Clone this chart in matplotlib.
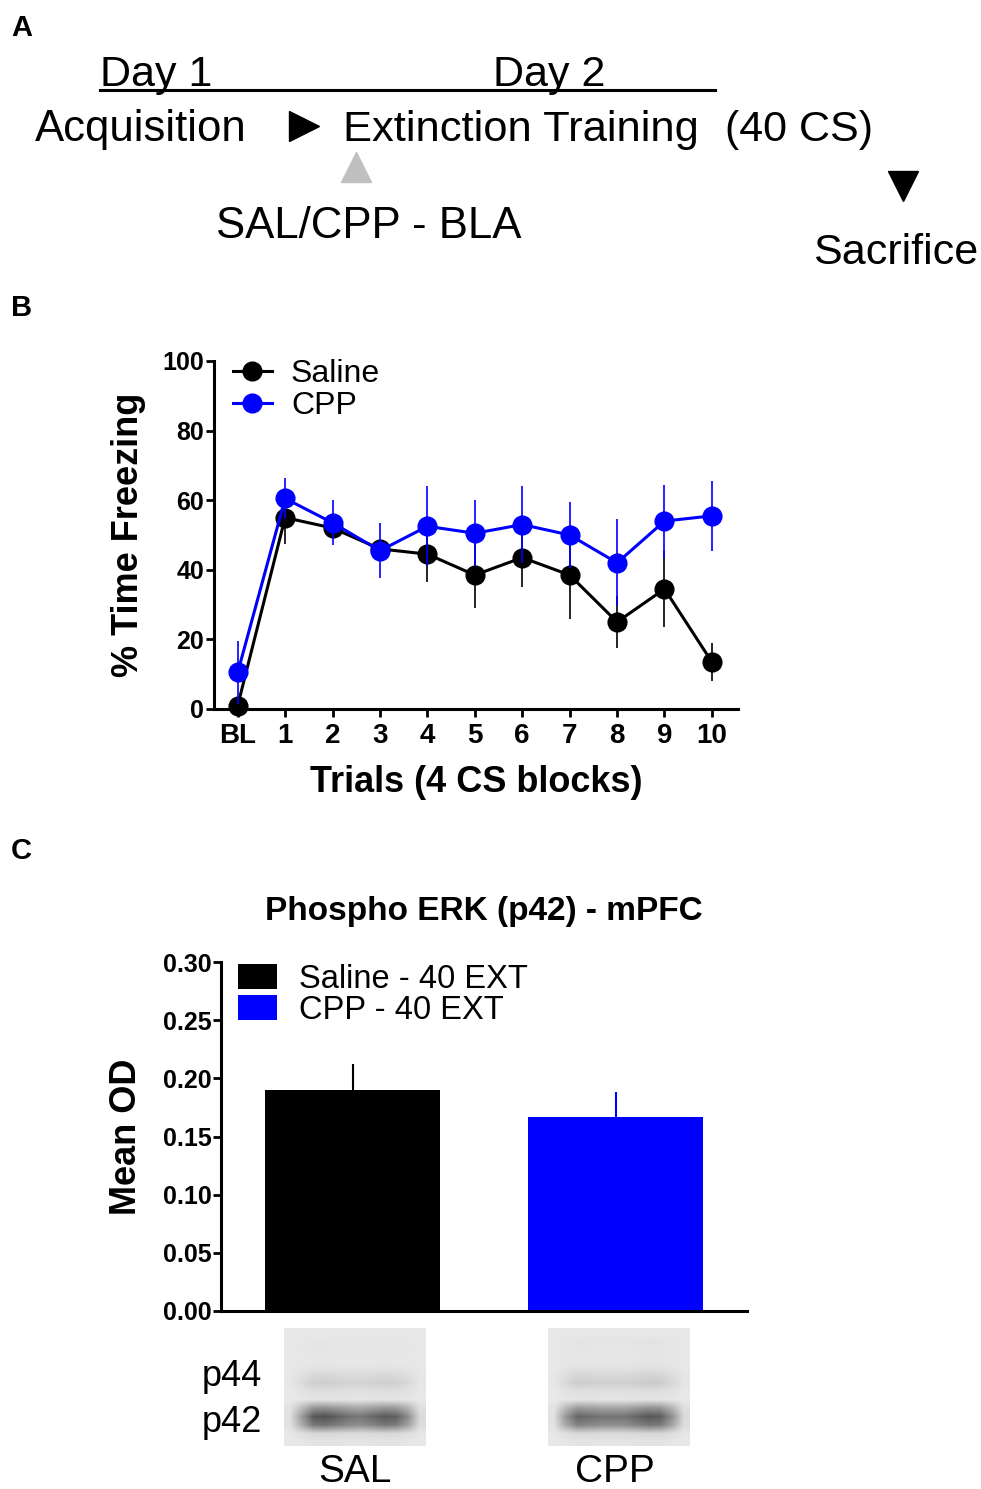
import numpy as np
import matplotlib
matplotlib.use("Agg")
import matplotlib.pyplot as plt
from matplotlib.lines import Line2D

plt.rcParams['font.family'] = ['Liberation Sans', 'DejaVu Sans']

# ---- data ----
trial_labels = ['BL', '1', '2', '3', '4', '5', '6', '7', '8', '9', '10']
saline_mean = [1, 55, 52, 46, 44.5, 38.5, 43.5, 38.5, 25, 34.5, 13.5]
saline_sem = [1, 7.5, 3, 2, 8, 9.5, 8.5, 12.5, 7.5, 11, 5.5]
cpp_mean = [10.5, 60.5, 53.5, 45.5, 52.5, 50.5, 53, 50, 42, 54, 55.5]
cpp_sem = [9, 6, 6.5, 8, 11.5, 9.5, 11, 9.5, 12.5, 10.5, 10]

od_groups = ['Saline - 40 EXT', 'CPP - 40 EXT']
od_mean = [0.190, 0.167]
od_sem = [0.022, 0.021]
od_colors = ['black', '#0000ff']

# blot band profiles (darkness), rows top->bottom and columns left->right
sal_blot_rows = [0.0, 0.02, 0.02, 0.01, 0.02, 0.10, 0.17, 0.07, 0.03, 0.55, 0.95, 0.75, 0.12, 0.03]
sal_blot_cols = [0.05, 0.5, 0.95, 1.0, 0.9, 0.8, 0.75, 0.85, 0.95, 0.9, 0.6, 0.1]
cpp_blot_rows = [0.0, 0.03, 0.02, 0.02, 0.03, 0.12, 0.19, 0.07, 0.03, 0.55, 0.92, 0.72, 0.12, 0.03]
cpp_blot_cols = [0.05, 0.55, 0.9, 0.85, 0.8, 0.8, 0.8, 0.9, 1.0, 0.95, 0.6, 0.1]

W, H = 981, 1489
fig = plt.figure(figsize=(W / 100, H / 100), dpi=100)


def px_axes(left, top, right, bottom):
    return fig.add_axes([left / W, 1 - bottom / H, (right - left) / W, (bottom - top) / H])


# overlay in pixel coordinates for schematic and labels
ov = fig.add_axes([0, 0, 1, 1])
ov.set_xlim(0, W)
ov.set_ylim(H, 0)
ov.axis('off')

# ---- panel A ----
ov.text(11, 28, 'A', fontsize=21, fontweight='bold', va='center', ha='left')
ov.text(100, 86, 'Day 1', fontsize=31, va='baseline')
ov.text(493, 86, 'Day 2', fontsize=31, va='baseline')
ov.plot([100, 715], [90, 90], color='black', lw=2.2)
ov.text(35, 141, 'Acquisition', fontsize=31.5, va='baseline')
ov.plot([304], [126], marker='>', color='black', markersize=22, ls='none')
ov.text(343, 141, 'Extinction Training', fontsize=31.3, va='baseline')
ov.text(725, 141, '(40 CS)', fontsize=31, va='baseline')
ov.plot([356], [167], marker='^', color='#c0c0c0', markersize=22, ls='none')
ov.text(216, 238, 'SAL/CPP - BLA', fontsize=31.5, va='baseline')
ov.plot([903], [186], marker='v', color='black', markersize=22, ls='none')
ov.text(813, 264, 'Sacrifice', fontsize=31, va='baseline')

# ---- panel B ----
ov.text(11, 308, 'B', fontsize=21, fontweight='bold', va='center', ha='left')
axb = px_axes(214, 361, 738, 709)
x = np.arange(len(trial_labels))
axb.errorbar(x, saline_mean, yerr=saline_sem, color='black', lw=2.2, elinewidth=1.2,
             marker='o', markersize=13.5, capsize=0, clip_on=False, zorder=3)
axb.errorbar(x, cpp_mean, yerr=cpp_sem, color='#0000ff', lw=2.2, elinewidth=1.2,
             marker='o', markersize=13.5, capsize=0, clip_on=False, zorder=4)
axb.set_xlim(-0.5, 10.55)
axb.set_ylim(0, 100)
axb.set_yticks(range(0, 101, 20))
axb.set_xticks(x)
axb.set_xticklabels(trial_labels)
for s in ['top', 'right']:
    axb.spines[s].set_visible(False)
for s in ['left', 'bottom']:
    axb.spines[s].set_linewidth(2.2)
axb.tick_params(axis='both', width=2, length=6, direction='out')
axb.tick_params(axis='y', labelsize=18, pad=1)
axb.tick_params(axis='x', labelsize=20, pad=4)
for lab in axb.get_xticklabels() + axb.get_yticklabels():
    lab.set_fontweight('bold')
axb.set_ylabel('% Time Freezing', fontsize=26, fontweight='bold', va='center', ha='center')
axb.yaxis.set_label_coords(-0.164, 0.5)
axb.set_xlabel('Trials (4 CS blocks)', fontsize=26, fontweight='bold', va='center', ha='center')
axb.xaxis.set_label_coords(0.5, -0.21)
handles_b = [Line2D([], [], color='black', lw=2.2, marker='o', markersize=13.5),
             Line2D([], [], color='#0000ff', lw=2.2, marker='o', markersize=13.5)]
axb.legend(handles_b, ['Saline', 'CPP'], loc='upper left', bbox_to_anchor=(0.036, 1.005),
           frameon=False, fontsize=23, handlelength=1.22, handletextpad=0.6,
           labelspacing=0.05, borderpad=0, borderaxespad=0)

# ---- panel C ----
ov.text(11, 851, 'C', fontsize=21, fontweight='bold', va='center', ha='left')
axc = px_axes(221, 962, 747, 1311)
xc = np.arange(len(od_groups))
axc.bar(xc, od_mean, width=0.665, color=od_colors, label=od_groups, zorder=2)
for i in range(len(od_groups)):
    axc.errorbar(xc[i], od_mean[i], yerr=[[0], [od_sem[i]]], color=od_colors[i],
                 elinewidth=1.5, capsize=0, ls='none', zorder=1)
axc.set_xlim(-0.5, 1.5)
axc.set_ylim(0, 0.30)
ticks_c = np.arange(0, 0.301, 0.05)
axc.set_yticks(ticks_c)
axc.set_yticklabels([f'{v:.2f}' for v in ticks_c])
axc.set_xticks([])
for s in ['top', 'right']:
    axc.spines[s].set_visible(False)
for s in ['left', 'bottom']:
    axc.spines[s].set_linewidth(2.2)
axc.tick_params(axis='y', width=2, length=6, labelsize=18, pad=1)
for lab in axc.get_yticklabels():
    lab.set_fontweight('bold')
axc.set_ylabel('Mean OD', fontsize=26, fontweight='bold', va='center', ha='center')
axc.yaxis.set_label_coords(-0.179, 0.5)
axc.set_title('Phospho ERK (p42) - mPFC', fontsize=24, fontweight='bold', pad=30)
axc.legend(loc='upper left', bbox_to_anchor=(0.032, 0.995), frameon=False, fontsize=23.5,
           handlelength=1.2, handleheight=0.8, handletextpad=0.66, labelspacing=0.0,
           borderpad=0, borderaxespad=0)

# ---- western blot insets ----
for (l, r), rows, cols in [((284, 426), sal_blot_rows, sal_blot_cols),
                           ((548, 690), cpp_blot_rows, cpp_blot_cols)]:
    axi = px_axes(l, 1328, r, 1446)
    dark = np.outer(rows, cols)
    axi.imshow(0.91 - 0.62 * dark, cmap='gray', vmin=0, vmax=1,
               interpolation='bilinear', aspect='auto')
    axi.axis('off')

ov.text(262, 1377, 'p44', fontsize=26, ha='right', va='center')
ov.text(262, 1422, 'p42', fontsize=26, ha='right', va='center')
ov.text(355, 1472, 'SAL', fontsize=28, ha='center', va='center')
ov.text(615, 1472, 'CPP', fontsize=28, ha='center', va='center')

fig.savefig('out.png', dpi=100)
